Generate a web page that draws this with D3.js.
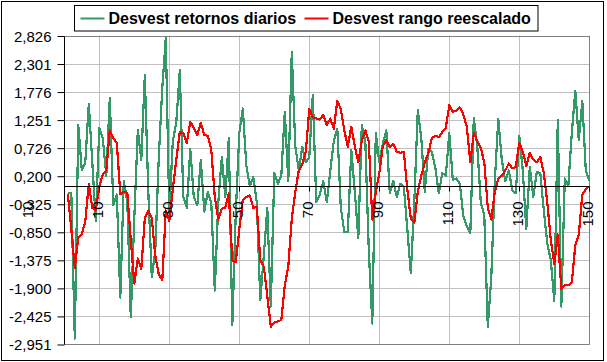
<!DOCTYPE html>
<html>
<head>
<meta charset="utf-8">
<script src="https://cdnjs.cloudflare.com/ajax/libs/d3/7.8.5/d3.min.js"></script>
<style>
body { margin: 0; background: #fff; }
svg { display: block; font-family: "Liberation Sans", Arial, sans-serif; }
</style>
</head>
<body>
<div id="chart"></div>
<script>
// Data
var retornos = [
	-0.13, -0.12, -2.85, 1.15, 0.3, 0.45, 1.55, 0.45, -0.65, 1.1,
	0.9, 0.2, 1.65, -0.35, -0.15, -2.08, 0.1, -0.28, -2.45, -0.6,
	1.05, 0.5, 2.08, -0.1, -1.7, -1.2, 0.55, 1.85, 2.78, -0.5,
	0.85, 1.2, 2.18, -0.2, -0.4, 0.7, -0.2, -0.35, 0.5, -0.47,
	-0.1, -0.32, -1.95, -0.3, 0.55, -0.2, 0.9, -2.6, -0.5, 1.0,
	1.46, 0.4, 0.0, 0.18, -0.3, -2.13, -1.3, -0.4, -2.25, 0.25,
	0.05, 0.2, 1.4, 0.1, 2.52, 0.75, 0.3, 0.74, 0.45, 0.55,
	1.71, -0.3, -0.15, 0.1, -0.3, 0.3, 0.85, 1.08, -0.4, -0.85,
	-0.85, 0.68, -0.1, -0.97, 1.15, 0.85, -1.2, -2.57, 1.0, 0.45,
	0.8, 1.05, -0.13, 0.1, -0.2, 0.05, 0.0, -0.8, -1.63, -0.3,
	1.43, 0.9, -0.1, 0.7, 0.65, 0.35, -0.13, 0.25, 0.2, 1.0,
	0.12, 0.15, 0.05, -0.55, -0.75, -0.88, 1.28, 0.75, -0.3, -0.55,
	-2.63, -1.7, 0.1, 1.26, 0.5, 0.1, 0.3, -0.07, -0.13, 0.95,
	0.3, -0.8, 0.37, -0.2, 0.27, 0.25, -0.45, -1.07, -1.38, -2.15,
	1.24, -2.25, 0.15, 0.0, 1.0, 1.79, 0.87, 1.6, 0.3, 0.1
];
var rango = [
	-0.15, -0.8, -1.53, -0.95, -0.9, -0.65, 0.05, -0.4, -0.45, 0.0,
	0.22, 0.3, 1.05, 0.9, 0.82, -0.15, -0.1, -0.12, -1.0, -1.82,
	-1.35, -1.55, -0.6, -0.45, -0.6, -1.3, -1.65, -1.75, -0.45, -0.65,
	-0.05, 0.5, 1.02, 1.0, 0.81, 1.21, 1.1, 0.96, 1.19, 0.96,
	0.95, 0.68, -0.2, -0.62, -0.42, -0.4, -0.13, -1.38, -1.42, -0.8,
	-0.25, -0.2, -0.17, -0.4, -0.38, -1.38, -1.5, -2.05, -2.63, -2.55,
	-2.53, -2.5, -1.85, -1.5, -0.6, -0.1, 0.3, 0.42, 0.65, 1.45,
	1.3, 1.27, 1.25, 1.34, 1.15, 1.27, 1.08, 1.6, 1.45, 1.05,
	0.74, 1.12, 0.75, 0.45, 0.85, 1.05, 0.85, -0.62, -0.1, 0.25,
	0.75, 0.87, 0.74, 0.8, 0.65, 0.63, 0.65, -0.05, -0.6, -0.68,
	-0.1, 0.2, 0.45, 0.62, 0.9, 0.95, 0.92, 1.02, 1.1, 1.52,
	1.4, 1.42, 1.48, 1.35, 1.12, 0.45, 1.0, 0.85, 0.72, 0.45,
	-0.4, -0.62, -0.1, 0.15, 0.2, 0.3, 0.43, 0.34, 0.36, 0.82,
	0.65, 0.38, 0.63, 0.5, 0.45, 0.55, 0.25, -0.3, -1.0, -1.45,
	-0.9, -1.92, -1.85, -1.85, -1.8, -1.1, -0.9, -0.15, -0.05, 0.0
];
var seriesNames = ["Desvest retornos diarios", "Desvest rango reescalado"];
var yTicks = [2.826, 2.301, 1.776, 1.251, 0.726, 0.200, -0.325, -0.850, -1.375, -1.900, -2.425, -2.951];
var yLabels = ["2,826", "2,301", "1,776", "1,251", "0,726", "0,200", "-0,325", "-0,850", "-1,375", "-1,900", "-2,425", "-2,951"];
var xTicks = [10, 30, 50, 70, 90, 110, 130, 150];
// stray "10" label drawn left of the plot in the original
var strayLabel = { pos: -10, text: "10" };

var width = 607,
	height = 362,
	green = "#339966",
	red = "#ff0000",
	svg = d3.select("#chart")
	.append("svg")
	.attr("width", width)
	.attr("height", height);

var x = d3.scaleLinear()
	.domain([0, retornos.length])
	.range([64.3, 589.3]);
var y = d3.scaleLinear()
	.domain([yTicks[yTicks.length - 1], yTicks[0]])
	.range([344, 35.5]);

// chart area border
svg.append("rect")
	.attr("x", 1.5).attr("y", 1.5)
	.attr("width", 602).attr("height", 359)
	.attr("fill", "#fff")
	.attr("stroke", "#000");

// gridlines
svg.append("g")
	.selectAll("line")
	.data(yTicks)
	.enter().append("line")
	.attr("x1", x(0)).attr("x2", x(150))
	.attr("y1", function(d) { return Math.round(y(d)) + 0.5; })
	.attr("y2", function(d) { return Math.round(y(d)) + 0.5; })
	.attr("stroke", "#c0c0c0");
svg.append("g")
	.selectAll("line")
	.data(xTicks)
	.enter().append("line")
	.attr("x1", function(d) { return Math.round(x(d)) + 0.5; })
	.attr("x2", function(d) { return Math.round(x(d)) + 0.5; })
	.attr("y1", y.range()[1]).attr("y2", y.range()[0])
	.attr("stroke", "#c0c0c0");

// plot border (right / bottom)
svg.append("path")
	.attr("d", "M" + (Math.round(x(0)) + 0.5) + "," + (Math.round(y.range()[1]) + 0.5) +
		"H" + (Math.round(x(150)) + 0.5) + "V" + (Math.round(y.range()[0]) + 0.5) + "H" + (Math.round(x(0)) + 0.5))
	.attr("fill", "none")
	.attr("stroke", "#808080");

// lines
var line = function(vals) {
	return d3.line()
		.x(function(d, i) { return x(i + 1); })
		.y(function(d) { return y(d); })(vals);
};
svg.append("path")
	.attr("d", line(retornos))
	.attr("fill", "none")
	.attr("stroke", green)
	.attr("stroke-width", 2.2)
	.attr("shape-rendering", "crispEdges")
	.attr("stroke-linejoin", "round");
svg.append("path")
	.attr("d", line(rango))
	.attr("fill", "none")
	.attr("stroke", red)
	.attr("stroke-width", 2.2)
	.attr("shape-rendering", "crispEdges")
	.attr("stroke-linejoin", "round");

// y axis
var yAxis = d3.axisLeft(y)
	.tickValues(yTicks)
	.tickSize(7)
	.tickPadding(6)
	.tickFormat(function(d, i) { return yLabels[i]; });
var gy = svg.append("g")
	.attr("transform", "translate(" + (Math.round(x(0)) + 0.5) + ",0.5)")
	.call(yAxis);
gy.select(".domain").attr("stroke", "#000").attr("d", "M0," + Math.round(y.range()[1]) + "V" + Math.round(y.range()[0]));
gy.selectAll(".tick line").attr("stroke", "#000");
gy.selectAll(".tick text")
	.attr("font-size", 15)
	.attr("font-family", "Liberation Sans, Arial, sans-serif")
	.attr("fill", "#000")
	.attr("dy", "0.36em");

// x axis at zero
var y0 = Math.round(y(0)) + 0.5;
svg.append("line")
	.attr("x1", x(0)).attr("x2", x(150))
	.attr("y1", y0).attr("y2", y0)
	.attr("stroke", "#000");
svg.append("g")
	.selectAll("line")
	.data(xTicks)
	.enter().append("line")
	.attr("x1", function(d) { return Math.round(x(d)) + 0.5; })
	.attr("x2", function(d) { return Math.round(x(d)) + 0.5; })
	.attr("y1", y0).attr("y2", y0 + 5)
	.attr("stroke", "#000");
svg.append("g")
	.selectAll("text")
	.data(xTicks)
	.enter().append("text")
	.attr("transform", function(d) { return "translate(" + (x(d) + 4) + "," + (y0 + 15) + ") rotate(-90)"; })
	.attr("text-anchor", "end")
	.attr("font-size", 15)
	.text(function(d) { return d; });
svg.append("text")
	.attr("transform", "translate(" + (x(strayLabel.pos) + 4) + "," + (y0 + 15) + ") rotate(-90)")
	.attr("text-anchor", "end")
	.attr("font-size", 15)
	.text(strayLabel.text);

// legend
var lg = svg.append("g");
lg.append("rect")
	.attr("x", 74.5).attr("y", 5.5)
	.attr("width", 463.5).attr("height", 25.5)
	.attr("fill", "#fff")
	.attr("stroke", "#000");
var items = [
	{ name: seriesNames[0], color: green, x: 80.5 },
	{ name: seriesNames[1], color: red, x: 304.5 }
];
items.forEach(function(it) {
	lg.append("line")
		.attr("x1", it.x).attr("x2", it.x + 24)
		.attr("y1", 18.5).attr("y2", 18.5)
		.attr("stroke", it.color)
		.attr("stroke-width", 2);
	lg.append("text")
		.attr("x", it.x + 28)
		.attr("y", 24)
		.attr("font-size", 16)
		.attr("font-weight", "bold")
		.text(it.name);
});
</script>
</body>
</html>
